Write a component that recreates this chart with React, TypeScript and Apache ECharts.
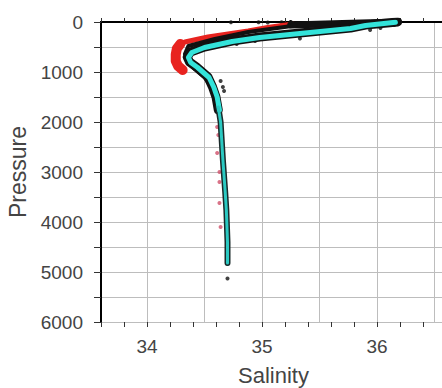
import React, { useEffect, useRef } from "react";
import * as echarts from "echarts";

// [salinity, pressure]
const redUpper: number[][] = [[35.27, 40], [35.05, 110], [34.88, 180], [34.53, 300], [34.33, 400], [34.26, 470]];
const redBlob: number[][] = [[34.29, 440], [34.26, 530], [34.25, 650], [34.25, 780], [34.27, 880], [34.31, 960]];
const redDeep: number[][] = [[34.61, 2100], [34.62, 2260], [34.61, 2620], [34.63, 3000], [34.63, 3200], [34.63, 3620], [34.64, 4100]];

const blackWedge: number[][] = [[36.18, 0], [35.7, 30], [35.25, 60]];
const blackUpper: number[][] = [[35.25, 0], [35.29, 70], [34.88, 200], [34.59, 340], [34.36, 480], [34.33, 640], [34.35, 800], [34.42, 950], [34.5, 1100], [34.56, 1300], [34.6, 1550], [34.62, 1800]];
const blackBand: number[][] = [[36.18, 0], [35.9, 60], [35.77, 120], [35.33, 220], [34.98, 300], [34.74, 380], [34.5, 500], [34.38, 600], [34.35, 700], [34.37, 800], [34.43, 900], [34.49, 1020], [34.53, 1100], [34.57, 1300], [34.6, 1500], [34.62, 1760]];
const blackDeep: number[][] = [[34.62, 1700], [34.64, 2000], [34.66, 2760], [34.68, 3400], [34.69, 3760], [34.7, 4400], [34.7, 4820]];
const blackDots: number[][] = [[34.73, 5], [34.97, 5], [35.05, 8], [35.17, 5], [35.94, 160], [36.03, 120], [36.15, 60], [34.94, 380], [34.78, 440], [35.33, 330], [34.7, 5130], [34.67, 1380], [34.66, 1300], [34.64, 1180]];

const cyanUpper: number[][] = [[36.16, 5], [35.9, 70], [35.77, 130], [35.33, 230], [34.98, 310], [34.74, 390], [34.5, 510], [34.39, 610], [34.36, 710], [34.38, 810], [34.44, 910], [34.5, 1030], [34.54, 1110], [34.58, 1300], [34.61, 1500], [34.63, 1760]];
const cyanDeep: number[][] = [[34.62, 1700], [34.64, 2000], [34.66, 2760], [34.68, 3400], [34.69, 3760], [34.7, 4400], [34.7, 4820]];

const xTickLabels = ["34", "35", "36"];
const yTickLabels = ["0", "1000", "2000", "3000", "4000", "5000", "6000"];

const FONT = "Liberation Sans, Arial, sans-serif";
const TEXT = "#444";
const GRIDC = "#bdbdbd";

export default function App() {
  const ref = useRef<HTMLDivElement>(null);
  useEffect(() => {
    if (!ref.current) return;
    const chart = echarts.init(ref.current, null, { renderer: "svg" });
    const xmin = 33.6, xmax = 36.6;
    const lineS = (data: number[][], color: string, width: number) => ({
      type: "line",
      data,
      symbol: "none",
      showSymbol: false,
      silent: true,
      lineStyle: { color, width, join: "round", cap: "round" },
      xAxisIndex: 0,
      yAxisIndex: 0,
    });
    chart.setOption({
      animation: false,
      grid: { left: 101, top: 22, right: -4, bottom: 66, outerBoundsMode: "none", containLabel: false },
      xAxis: [
        {
          type: "value", min: xmin, max: xmax, splitNumber: 6, position: "bottom",
          axisLine: { show: true, lineStyle: { color: "#000", width: 2 } },
          axisTick: { show: false },
          splitLine: { show: true, lineStyle: { color: GRIDC, width: 1 } },
          axisLabel: {
            fontSize: 19, color: TEXT, fontFamily: FONT, margin: 15,
            showMinLabel: false, showMaxLabel: false,
            formatter: (v: number) => {
              const r = Math.round(v);
              return Math.abs(v - r) < 1e-6 && xTickLabels.includes(String(r)) ? String(r) : "";
            },
          },
          name: "Salinity", nameLocation: "middle", nameGap: 42,
          nameTextStyle: { fontSize: 22, color: TEXT, fontFamily: FONT },
        },
        {
          type: "value", min: xmin, max: xmax, splitNumber: 15, position: "bottom",
          axisLine: { show: false },
          axisTick: { show: true, length: 5, lineStyle: { color: "#333" } },
          axisLabel: { show: false }, splitLine: { show: false },
        },
        {
          type: "value", min: xmin, max: xmax, splitNumber: 15, position: "top",
          axisLine: { show: true, lineStyle: { color: "#000", width: 2 } },
          axisTick: { show: true, length: 4, lineStyle: { color: "#333" } },
          axisLabel: { show: false }, splitLine: { show: false },
        },
      ],
      yAxis: [
        {
          type: "value", min: 0, max: 6000, interval: 500, inverse: true,
          axisLine: { show: true, lineStyle: { color: "#000", width: 2 } },
          axisTick: { show: true, length: 7, lineStyle: { color: "#333" } },
          splitLine: { show: true, lineStyle: { color: GRIDC, width: 1 } },
          axisLabel: {
            fontSize: 19, color: TEXT, fontFamily: FONT, margin: 18,
            formatter: (v: number) => (yTickLabels.includes(String(v)) ? String(v) : ""),
          },
          name: "Pressure", nameLocation: "middle", nameGap: 68, nameRotate: 90,
          nameTextStyle: { fontSize: 23, color: TEXT, fontFamily: FONT },
        },
      ],
      series: [
        lineS(redUpper, "#e8231f", 5),
        lineS(redBlob, "#e8231f", 10),
        lineS(blackWedge, "#111", 7),
        lineS(blackUpper, "#111", 4),
        lineS(blackBand, "#111", 9),
        lineS(blackDeep, "#1a2a2a", 6),
        lineS(cyanUpper, "#33e3da", 5),
        lineS(cyanDeep, "#2bc9c2", 3),
        {
          type: "scatter", data: blackDots, symbolSize: 4, silent: true,
          itemStyle: { color: "#111" },
        },
        {
          type: "scatter", data: redDeep, symbolSize: 4, silent: true,
          itemStyle: { color: "#d0506a" },
        },
        {
          type: "scatter", data: [[34.7, 4830]], symbolSize: 5, silent: true,
          itemStyle: { color: "#2bc9c2" },
        },
      ],
    });
    return () => chart.dispose();
  }, []);
  return (
    <div
      ref={ref}
      style={{ position: "absolute", left: 0, top: 0, width: 442, height: 388 }}
    />
  );
}
